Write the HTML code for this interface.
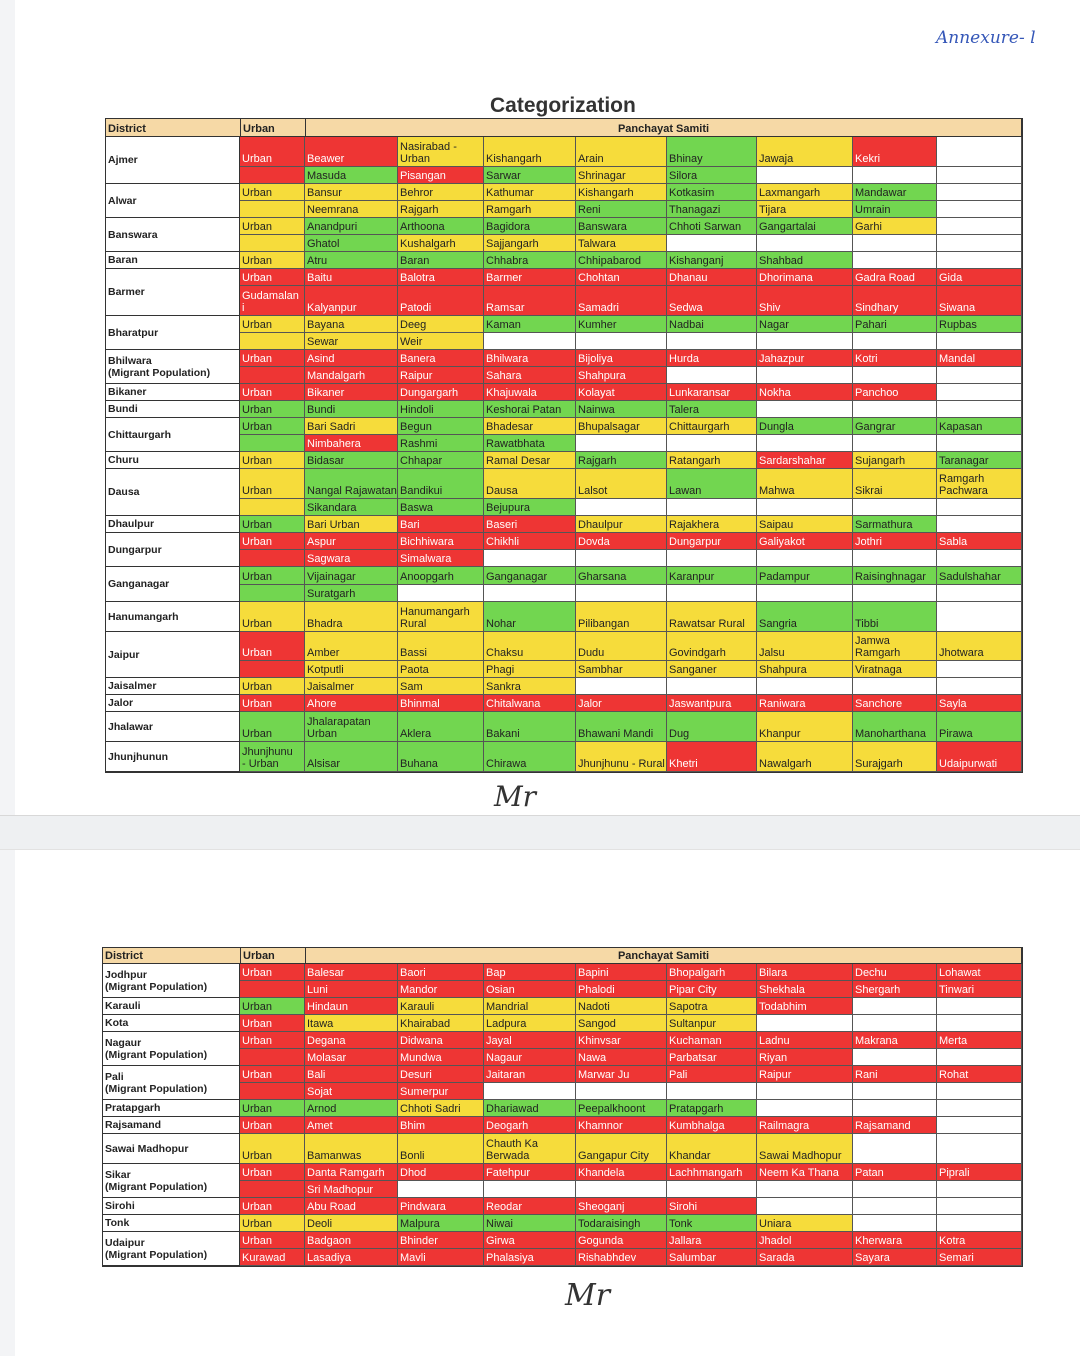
<!DOCTYPE html>
<html><head><meta charset="utf-8">
<style>
body{margin:0;width:1080px;height:1356px;background:#fff;position:relative;overflow:hidden;font-family:"Liberation Sans",sans-serif;}
.band{position:absolute;left:0;width:1080px;top:815px;height:33px;background:#eef0f2;border-top:1px solid #d8d8d8;border-bottom:1px solid #e2e2e2;}
.lstrip{position:absolute;left:0;top:0;width:15px;height:1356px;background:#f3f4f6;}
.c{position:absolute;box-sizing:border-box;border-right:1px solid #555;border-bottom:1px solid #555;font-size:11px;line-height:12px;padding:0 2px 1px 2px;display:flex;align-items:flex-end;overflow:hidden;white-space:nowrap;color:#222;}
.r{background:#ee3534;color:#fff}.g{background:#72d650}.y{background:#f6dc3b}.w{background:#fff}
.d{position:absolute;box-sizing:border-box;border:1px solid #333;border-top:none;background:#fff;font-size:10.5px;font-weight:bold;display:flex;align-items:center;padding-left:2px;line-height:12px;color:#222}
.h{position:absolute;box-sizing:border-box;background:#f6d9a6;border:1.5px solid #333;font-size:11px;font-weight:bold;display:flex;align-items:flex-end;padding:0 2px 1px;color:#222}
.tbl{position:absolute;border:1.5px solid #333;box-sizing:border-box;pointer-events:none}
</style></head><body>
<div class="lstrip"></div>
<div class="band"></div>
<div style="position:absolute;left:936px;top:28px;color:#3557b8;font-family:'DejaVu Serif',serif;font-style:italic;font-size:17px">Annexure- l</div>
<div style="position:absolute;left:490px;top:94px;font-weight:bold;font-size:21px;color:#333">Categorization</div>
<div style="position:absolute;left:494px;top:780px;font-style:italic;font-size:28px;color:#333;font-family:'DejaVu Serif',serif">Mr</div>
<div style="position:absolute;left:565px;top:1278px;font-style:italic;font-size:30px;color:#333;font-family:'DejaVu Serif',serif">Mr</div>
<div id="root"></div>
<script>
const cols1=[240,305,398,484,576,667,757,853,937,1022];
const groups1=[
["Ajmer",[[30,"r:Urban;r:Beawer;y:Nasirabad -<br>Urban;y:Kishangarh;y:Arain;g:Bhinay;y:Jawaja;r:Kekri;w:"],[17,"r:;g:Masuda;r:Pisangan;g:Sarwar;y:Shrinagar;g:Silora;w:;w:;w:"]]],
["Alwar",[[17,"y:Urban;y:Bansur;y:Behror;y:Kathumar;y:Kishangarh;g:Kotkasim;y:Laxmangarh;g:Mandawar;w:"],[17,"y:;y:Neemrana;y:Rajgarh;y:Ramgarh;g:Reni;g:Thanagazi;y:Tijara;g:Umrain;w:"]]],
["Banswara",[[17,"y:Urban;g:Anandpuri;g:Arthoona;g:Bagidora;g:Banswara;g:Chhoti Sarwan;g:Gangartalai;y:Garhi;w:"],[17,"y:;g:Ghatol;y:Kushalgarh;y:Sajjangarh;y:Talwara;w:;w:;w:;w:"]]],
["Baran",[[17,"y:Urban;g:Atru;g:Baran;g:Chhabra;g:Chhipabarod;g:Kishanganj;g:Shahbad;w:;w:"]]],
["Barmer",[[17,"r:Urban;r:Baitu;r:Balotra;r:Barmer;r:Chohtan;r:Dhanau;r:Dhorimana;r:Gadra Road;r:Gida"],[30,"r:Gudamalan<br>i;r:Kalyanpur;r:Patodi;r:Ramsar;r:Samadri;r:Sedwa;r:Shiv;r:Sindhary;r:Siwana"]]],
["Bharatpur",[[17,"y:Urban;y:Bayana;y:Deeg;g:Kaman;g:Kumher;g:Nadbai;g:Nagar;g:Pahari;g:Rupbas"],[17,"y:;y:Sewar;y:Weir;w:;w:;w:;w:;w:;w:"]]],
["Bhilwara<br>(Migrant Population)",[[17,"r:Urban;r:Asind;r:Banera;r:Bhilwara;r:Bijoliya;r:Hurda;r:Jahazpur;r:Kotri;r:Mandal"],[17,"r:;r:Mandalgarh;r:Raipur;r:Sahara;r:Shahpura;w:;w:;w:;w:"]]],
["Bikaner",[[17,"r:Urban;r:Bikaner;r:Dungargarh;r:Khajuwala;r:Kolayat;r:Lunkaransar;r:Nokha;r:Panchoo;w:"]]],
["Bundi",[[17,"g:Urban;g:Bundi;g:Hindoli;g:Keshorai Patan;g:Nainwa;g:Talera;w:;w:;w:"]]],
["Chittaurgarh",[[17,"g:Urban;y:Bari Sadri;g:Begun;y:Bhadesar;y:Bhupalsagar;y:Chittaurgarh;g:Dungla;g:Gangrar;g:Kapasan"],[17,"g:;r:Nimbahera;g:Rashmi;g:Rawatbhata;w:;w:;w:;w:;w:"]]],
["Churu",[[17,"y:Urban;g:Bidasar;g:Chhapar;y:Ramal Desar;g:Rajgarh;y:Ratangarh;r:Sardarshahar;y:Sujangarh;g:Taranagar"]]],
["Dausa",[[30,"y:Urban;g:Nangal Rajawatan;g:Bandikui;y:Dausa;y:Lalsot;g:Lawan;y:Mahwa;y:Sikrai;y:Ramgarh<br>Pachwara"],[17,"y:;g:Sikandara;g:Baswa;g:Bejupura;w:;w:;w:;w:;w:"]]],
["Dhaulpur",[[17,"g:Urban;y:Bari Urban;r:Bari;r:Baseri;y:Dhaulpur;y:Rajakhera;y:Saipau;g:Sarmathura;w:"]]],
["Dungarpur",[[17,"r:Urban;r:Aspur;r:Bichhiwara;r:Chikhli;r:Dovda;r:Dungarpur;r:Galiyakot;r:Jothri;r:Sabla"],[17,"r:;r:Sagwara;r:Simalwara;w:;w:;w:;w:;w:;w:"]]],
["Ganganagar",[[18,"g:Urban;g:Vijainagar;g:Anoopgarh;g:Ganganagar;g:Gharsana;g:Karanpur;g:Padampur;g:Raisinghnagar;g:Sadulshahar"],[17,"g:;g:Suratgarh;w:;w:;w:;w:;w:;w:;w:"]]],
["Hanumangarh",[[30,"y:Urban;y:Bhadra;y:Hanumangarh<br>Rural;g:Nohar;y:Pilibangan;y:Rawatsar Rural;g:Sangria;g:Tibbi;w:"]]],
["Jaipur",[[29,"r:Urban;y:Amber;y:Bassi;y:Chaksu;y:Dudu;y:Govindgarh;y:Jalsu;y:Jamwa<br>Ramgarh;y:Jhotwara"],[17,"r:;y:Kotputli;y:Paota;y:Phagi;y:Sambhar;y:Sanganer;y:Shahpura;y:Viratnaga;w:"]]],
["Jaisalmer",[[17,"y:Urban;y:Jaisalmer;y:Sam;y:Sankra;w:;w:;w:;w:;w:"]]],
["Jalor",[[17,"r:Urban;r:Ahore;r:Bhinmal;r:Chitalwana;r:Jalor;r:Jaswantpura;r:Raniwara;r:Sanchore;r:Sayla"]]],
["Jhalawar",[[30,"g:Urban;g:Jhalarapatan<br>Urban;g:Aklera;g:Bakani;g:Bhawani Mandi;g:Dug;y:Khanpur;g:Manoharthana;g:Pirawa"]]],
["Jhunjhunun",[[30,"g:Jhunjhunu<br>- Urban;g:Alsisar;g:Buhana;g:Chirawa;y:Jhunjhunu - Rural;r:Khetri;y:Nawalgarh;y:Surajgarh;r:Udaipurwati"]]]
];
const groups2=[
["Jodhpur<br>(Migrant Population)",[[17,"r:Urban;r:Balesar;r:Baori;r:Bap;r:Bapini;r:Bhopalgarh;r:Bilara;r:Dechu;r:Lohawat"],[17,"r:;r:Luni;r:Mandor;r:Osian;r:Phalodi;r:Pipar City;r:Shekhala;r:Shergarh;r:Tinwari"]]],
["Karauli",[[17,"g:Urban;r:Hindaun;y:Karauli;y:Mandrial;y:Nadoti;y:Sapotra;r:Todabhim;w:;w:"]]],
["Kota",[[17,"r:Urban;y:Itawa;y:Khairabad;y:Ladpura;y:Sangod;y:Sultanpur;w:;w:;w:"]]],
["Nagaur<br>(Migrant Population)",[[17,"r:Urban;r:Degana;r:Didwana;r:Jayal;r:Khinvsar;r:Kuchaman;r:Ladnu;r:Makrana;r:Merta"],[17,"r:;r:Molasar;r:Mundwa;r:Nagaur;r:Nawa;r:Parbatsar;r:Riyan;w:;w:"]]],
["Pali<br>(Migrant Population)",[[17,"r:Urban;r:Bali;r:Desuri;r:Jaitaran;r:Marwar Ju;r:Pali;r:Raipur;r:Rani;r:Rohat"],[17,"r:;r:Sojat;r:Sumerpur;w:;w:;w:;w:;w:;w:"]]],
["Pratapgarh",[[17,"g:Urban;g:Arnod;y:Chhoti Sadri;g:Dhariawad;g:Peepalkhoont;g:Pratapgarh;w:;w:;w:"]]],
["Rajsamand",[[17,"r:Urban;r:Amet;r:Bhim;r:Deogarh;r:Khamnor;r:Kumbhalga;r:Railmagra;r:Rajsamand;w:"]]],
["Sawai Madhopur",[[30,"y:Urban;y:Bamanwas;y:Bonli;y:Chauth Ka<br>Berwada;y:Gangapur City;y:Khandar;y:Sawai Madhopur;w:;w:"]]],
["Sikar<br>(Migrant Population)",[[17,"r:Urban;r:Danta Ramgarh;r:Dhod;r:Fatehpur;r:Khandela;r:Lachhmangarh;r:Neem Ka Thana;r:Patan;r:Piprali"],[17,"r:;r:Sri Madhopur;w:;w:;w:;w:;w:;w:;w:"]]],
["Sirohi",[[17,"r:Urban;r:Abu Road;r:Pindwara;r:Reodar;r:Sheoganj;r:Sirohi;w:;w:;w:"]]],
["Tonk",[[17,"y:Urban;y:Deoli;g:Malpura;g:Niwai;g:Todaraisingh;g:Tonk;y:Uniara;w:;w:"]]],
["Udaipur<br>(Migrant Population)",[[17,"r:Urban;r:Badgaon;r:Bhinder;r:Girwa;r:Gogunda;r:Jallara;r:Jhadol;r:Kherwara;r:Kotra"],[17,"r:Kurawad;r:Lasadiya;r:Mavli;r:Phalasiya;r:Rishabhdev;r:Salumbar;r:Sarada;r:Sayara;r:Semari"]]]
];
const root=document.getElementById('root');
function mk(cls,x,y,w,h,html){const e=document.createElement('div');e.className=cls;e.style.left=x+'px';e.style.top=y+'px';e.style.width=w+'px';e.style.height=h+'px';e.innerHTML=html;root.appendChild(e);return e;}
function table(groups,left,top,hh,id){
  const right=cols1[cols1.length-1];
  let e=mk('h',left,top,240-left+1,hh,'District');
  
  
  e=mk('h',240,top,66,hh,'Urban');
  
  
  e=mk('h',305,top,right-305,hh,'<span style="margin:0 auto">Panchayat Samiti</span>');
  
  
  let y=top+hh;
  groups.forEach(g=>{
    const gh=g[1].reduce((s,r)=>s+r[0],0);
    const d=mk('d',left,y,240-left,gh,g[0]);
    
    
    g[1].forEach(r=>{
      const cells=r[1].split(';');
      cells.forEach((c,i)=>{
        const k=c.indexOf(':');const col=c.slice(0,k),txt=c.slice(k+1);
        const x0=cols1[i],x1=cols1[i+1];
        const ce=mk('c '+col,x0,y,x1-x0,r[0],txt);
        
        
      });
      y+=r[0];
    });
  });
  const t=mk('tbl',left,top,right-left+1,y-top+1,'');
  
  
}
table(groups1,105,118,19,'categorization-table-1');
table(groups2,102,947,17,'categorization-table-2');
</script>
</body></html>
